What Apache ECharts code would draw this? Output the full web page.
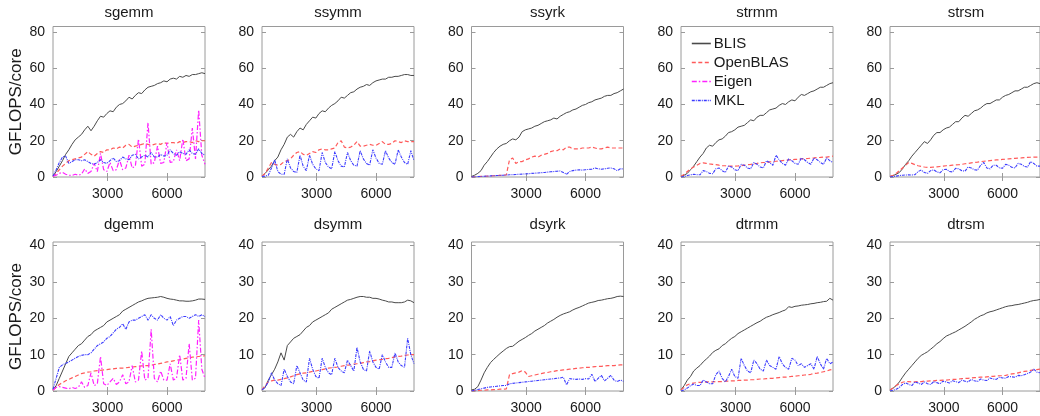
<!DOCTYPE html>
<html>
<head>
<meta charset="utf-8">
<script src="https://cdn.jsdelivr.net/npm/echarts@6/dist/echarts.min.js"></script>
<style>html,body{margin:0;padding:0;background:#fff}#c{width:1040px;height:416px}</style>
</head>
<body>
<div id="c"></div>
<script>
// Problem sizes (x axis)
const X = [240,400,560,720,880,1040,1200,1360,1520,1680,1840,2000,2160,2320,2480,2640,2800,2960,3120,3280,3440,3600,3760,3920,4080,4240,4400,4560,4720,4880,5040,5200,5360,5520,5680,5840,6000,6160,6320,6480,6640,6800,6960,7120,7280,7440,7600,7760,7920];
const xTicks = [3000, 6000];
const yTicksTop = [0, 20, 40, 60, 80];
const yTicksBottom = [0, 10, 20, 30, 40];
const panelNames = ['sgemm','ssymm','ssyrk','strmm','strsm','dgemm','dsymm','dsyrk','dtrmm','dtrsm'];
const seriesNames = ['BLIS','OpenBLAS','Eigen','MKL'];

// ---- single precision ----
const sgemm_BLIS = [0.5,3,6,9,12.5,15,18,20.5,22,23.5,26,28,25.5,28,31,33.5,33,35,36.5,36,38.5,40,40.5,42,44,43,45,46.5,46,48,49.5,50,50.5,51.5,52,53,52.5,54,54.5,54,55.5,55,56,55.5,56.5,56.5,57,57.5,57];
const sgemm_OpenBLAS = [0.3,2,4,6,7.5,9,9.5,10,10.5,11,12.5,14,12.5,11.5,13,14,13.5,15,15,16,15.5,16.5,16,17.5,18,16.5,17,17.5,18,18.5,18,17.5,18,18.5,18,19,18.5,19,19,18.5,19.5,19,19.5,19.5,19,20,19.5,20,20];
const sgemm_Eigen = [0.5,1,2,2.5,1.5,1,0.8,1.5,1,1.5,4.5,2,3,7.5,3,13,4,3,8,3.5,4,9.5,4,5,12,5,6,21,6,7,30,7,8,17,7.5,8,19,8,8.5,15,9,21,9,10,27,10,37,12,7];
const sgemm_MKL = [0.5,4,8,11,11.5,7.5,8.5,9.5,9.5,9,9.5,8.5,7.5,7,8,9.5,8,7.5,9,10.5,8.5,9,11,10,9.5,12,12.5,10,11,12,11,13.5,11,11,12.5,11.5,12,15,13,12,14,13,12.5,15,13,12.5,15.5,13,12];

const ssymm_BLIS = [0.5,2,4,6,9,11,15,18,22,23.5,22,25,27,26,29,31,33,32.5,35,36.5,36,38,39.5,40.5,42,44,43.5,45,46.5,47,48.5,49.5,50,51,50.5,52,53,53.5,54,54,55,55,55.5,55.5,56,56.5,56.5,56,56];
const ssymm_OpenBLAS = [0.5,2,5,8,7,6.5,7,8.5,9,10,12,13.5,14,12.5,12,13,14,13.5,15,15.5,15,15,15.5,16,19,20,16.5,16,16.5,17.5,19.5,17,17,17.5,18,17.5,17.5,18.5,19.5,18,18,18.5,20,19.5,19,20,19.5,19.5,19.5];
const ssymm_MKL = [0.3,0.5,1,5,9.5,3,1.5,1.5,10,5,3,2.5,12,6,3.5,12,7,4.5,3.5,13.5,8,5.5,4.5,14,9,6,5.5,13.5,9,6.5,6,14.5,10,7.5,6.5,15,10.5,7.5,7,14.5,10.5,8,7,15,11,8,7,14.5,9];

const ssyrk_BLIS = [0.3,1,2,3.5,6.5,8.5,11,13.5,15.5,17,18,18.5,20,21,20.5,22,25,26,26.5,27,28,28.5,29.5,30.5,31,31.5,32.5,32,33.5,34.5,35.5,36,37,37.5,38.5,39.5,40,41,41.5,42.5,43,43.5,44.5,45,45,46,46.5,47.5,48.5];
const ssyrk_OpenBLAS = [0,0.1,0.2,0.3,0.4,0.5,0.6,0.7,0.8,0.9,1,1.2,9.5,10.5,7.5,8.5,8.5,9.5,10,11,11.5,11,12,12.5,13,14,14.5,14.5,15.5,15,16.5,16.5,15.5,15.5,15.5,16,16,16,16.5,16,15.5,15.5,16,16.5,16,16,16,16,16];
const ssyrk_MKL = [0,0.1,0.2,0.3,0.4,0.5,0.6,0.7,0.8,0.9,1,1.1,1.2,1.3,1.4,1.5,1.6,1.7,1.8,2,2.1,2.2,2.4,2.5,2.7,2.9,3,3.2,3.3,2.5,1.5,3,3.5,3.8,4,3.8,4,4.2,4.3,5,4.5,4.3,4.5,4.8,5,4.5,3.5,4.5,4.5];

const strmm_BLIS = [0.3,1,2,4,6,8.5,11,13,16,17.5,17,19,20.5,21,22.5,24.5,25,26,27.5,28,28.5,30,31.5,31,33,34,34,35.5,37,37.5,38,39.5,40.5,40,41.5,42.5,42,44,45.5,45,46,47,47.5,48.5,49.5,49.5,50.5,51.5,52];
const strmm_OpenBLAS = [0.3,1.5,3,4.5,5.5,6.5,7.5,7.8,7.5,7.2,7,6.8,6.5,6.3,6.2,6,6,6,6.1,6.3,6.5,6.8,7,7.3,7.5,7.8,8,8,8.3,8.5,8.7,8.8,9,9.2,9.4,9.5,9.7,9.8,10,10,10.2,10.4,10.5,10.7,10.8,11,11,11.3,11.5];
const strmm_MKL = [0,0.3,0.8,1.2,1.5,1.3,1.2,3.5,3,2,1.8,4.5,5,3.5,2.5,6,5.5,4,3.5,7,6.5,5,4.5,8,7,5.5,5,9,8,6.5,12,9.5,7.5,6.5,10,9,7.5,7,10.5,9.5,8,7,10.5,9.5,8,7,10.5,9,8];

const strsm_BLIS = [0.3,0.8,1.5,2.5,4.5,7,9,11.5,13.5,15.5,17.5,19.5,18.5,20.5,23,24.5,24.5,26,27,27.5,29,30.5,30.5,32.5,34,33.5,35,36.5,37,38,39.5,40.5,40.5,41.5,42.5,42.5,44,45,45.5,46.5,47.5,47.5,48.5,49.5,49.5,50.5,51.5,52,51.5];
const strsm_OpenBLAS = [0.3,1,2,3.5,5,6.5,8,7.5,6.8,6.2,5.8,5.5,5.3,5.3,5.5,5.6,5.8,6,6.2,6.3,6.5,6.7,6.8,7,7.3,7.5,7.8,8,8.2,8.5,8.7,8.8,9,9.2,9.4,9.5,9.7,9.8,10,10.1,10.3,10.4,10.5,10.7,10.8,10.9,11,11,11];
const strsm_MKL = [0,0.2,0.5,0.8,1,1.1,1.2,1.1,1.3,3,3.8,2.5,2,3.5,4,2.8,2.3,4,4.3,3,2.8,4.8,4.5,3.5,3.2,5.5,5,4,3.8,6.5,8,5,4.5,6.5,6.5,5,4.8,7,6.5,5.3,5,7.5,7,5.8,5.5,8.5,7.5,6,6];

// ---- double precision ----
const dgemm_BLIS = [0.3,1.5,3.5,5.5,7.5,9.5,10.5,11.5,12.5,13,14,15,15.5,16.5,17,17.5,18,19,19.5,20,20.5,21,22,22.5,23,23.5,24,24.5,24.8,25.2,25.5,25.6,25.7,25.8,26,25.8,25.5,25.3,25.2,25,24.8,24.8,24.7,24.7,24.8,25,25.3,25.3,25.2];
const dgemm_OpenBLAS = [0.3,1,1.8,2.3,2.8,3.2,3.6,4,4.4,4.8,5,5.2,5.3,5.5,5.6,5.7,5.8,5.9,6,6.1,6.2,6.3,6.3,6.4,6.5,6.6,6.7,6.8,6.9,7,7,7.1,7.3,7.4,7.6,7.8,8,8.1,8.3,8.5,8.6,8.8,9,9.1,9.3,9.4,9.5,9.6,9.7];
const dgemm_Eigen = [0.3,1,1.2,1,0.8,0.6,1,0.7,1,2.5,1,1.5,5,1.5,2,9.5,2,1.5,2.5,3.5,1.8,2.5,4.5,2,2.5,7,2.5,3,11,3,3.5,17,3.5,2.5,5.5,3,3,7.5,3,3.5,10,3,3.5,13,3,3.5,19.5,6,3.5];
const dgemm_MKL = [0.5,3.5,6.5,7.2,7.6,8,8.5,9,9.5,9.8,10,10,10.5,11.5,12.5,13,13.5,14.5,15,16,17,17.5,18.5,17,19,19.5,19.5,20,20.5,21,19.5,21,20,19.5,21,20,19.5,20.5,18,19.5,20,20.5,20.5,20,20.5,21,20.5,21,20.5];

const dsymm_BLIS = [0.3,1,3,4.5,6,8,10.5,8.5,12.5,13.5,14.5,15,15.5,16.5,17.5,18,19,19.5,20,20.5,21,21.5,22.5,23,23.5,24,24.5,25,25.2,25.5,25.8,26,26,25.8,25.8,25.5,25.5,25.3,25,24.8,24.5,24.5,24.3,24.3,24.3,24.5,25,24.8,24.3];
const dsymm_OpenBLAS = [0.3,1.5,2.5,2.8,3,3,3.2,3.4,3.6,3.9,4.2,4.5,4.7,4.9,5,5.2,5.4,5.5,5.7,5.9,6.1,6.3,6.4,6.5,6.6,6.8,7,7.1,7.2,7.4,7.5,7.6,7.8,8,8.1,8.3,8.5,8.6,8.7,8.9,9,9.2,9.4,9.5,9.6,9.8,9.9,10,10];
const dsymm_MKL = [0.3,1,2.5,5,3,2,1.5,6,4,2.5,2,7,5,3,2.5,9,6,4,3.5,9,6.5,5,4.5,9,6.5,5.5,5,8.5,7,5.5,12,8,6,5.5,11,8,6.5,6,10,8,6.5,6.5,10.5,8,7,6.5,14.5,10,7.5];

const dsyrk_BLIS = [0.3,0.5,1.2,3,5,6.5,7.8,8.7,9.5,10.3,11,11.7,12.2,12.3,13,13.7,14.2,14.7,15.3,15.8,16.5,17,17.5,18,18.7,19.2,19.7,20.3,20.8,21.2,21.5,21.8,22.3,22.7,23,23.4,23.8,24.2,24.4,24.6,24.9,25,25.2,25.4,25.5,25.7,26,26.1,26];
const dsyrk_OpenBLAS = [0,0.1,0.1,0.2,0.2,0.3,0.3,0.4,0.4,0.5,0.5,0.6,4.5,4.8,5,5.2,5.6,5.2,4,4.2,4.4,4.6,4.8,5,5.1,5.3,5.4,5.6,5.7,5.8,5.9,6,6.1,6.2,6.3,6.4,6.5,6.5,6.6,6.7,6.8,6.8,6.9,7,7,7,7.1,7.2,7.2];
const dsyrk_MKL = [0,0.2,0.4,0.6,0.8,1,1.1,1.2,1.3,1.4,1.5,1.5,2,2.1,2.2,2.3,2.4,2.5,2.6,2.7,2.8,2.9,3,3.1,3.2,3.3,3.4,3.5,3.6,3.8,1.7,3.4,3.3,3.2,3.3,3.2,3.4,3.3,4.6,2.6,3.5,4.3,2.8,3.5,4.3,3,2.6,3,2.7];

const dtrmm_BLIS = [0.3,1.5,3,4,5.5,6.3,7,8,8.8,9.6,10.6,11.2,11.6,12.5,13,13.8,14.5,15,15.8,16.3,16.8,17.3,17.8,18.3,18.8,19.2,19.8,20.3,20.6,21,21.3,21.6,22,22.3,23.2,23,23.3,23.4,23.6,23.7,23.8,24,24.1,24.3,24.4,24.6,24.7,25.5,25];
const dtrmm_OpenBLAS = [0.3,1,1.7,2,2.2,2.3,2.4,2.4,2.5,2.5,2.5,2.6,2.6,2.6,2.7,2.7,2.8,2.8,2.9,2.9,3,3,3.1,3.1,3.2,3.3,3.3,3.4,3.5,3.5,3.6,3.7,3.8,3.8,3.9,4,4.1,4.2,4.3,4.4,4.5,4.6,4.8,4.9,5.1,5.3,5.5,5.8,6];
const dtrmm_MKL = [0,0.3,0.8,1.5,1.9,1.5,1.5,3,2.5,2,2,4.5,5.5,3.5,2.5,4,6,4,3.5,9,7,5.5,5,8.5,7.5,6,5.5,8.5,7,6.5,6,9.5,7.5,6.5,6,9,8.5,7,7.5,6.5,7,7.5,6,9.5,7.5,6,9,7.5,8];

const dtrsm_BLIS = [0.3,0.8,1.5,2.5,3.8,5,6,7,8,9,9.8,10.3,10.8,11.5,12.2,13,13.6,14.4,15.1,15.5,15.9,16.3,16.8,17.3,17.8,18.4,19,19.7,20.2,20.7,21,21.5,21.8,22,22.3,22.6,22.9,23.2,23.4,23.5,23.7,23.8,24,24.2,24.4,24.7,24.9,25,25.2];
const dtrsm_OpenBLAS = [0.3,0.8,1.5,2,2.4,2.6,2.6,2.5,2.5,2.6,2.6,2.7,2.7,2.8,2.8,2.9,2.9,3,3,3.1,3.2,3.2,3.3,3.4,3.5,3.5,3.6,3.7,3.7,3.8,3.8,3.9,4,4,4.1,4.2,4.2,4.3,4.5,4.7,4.8,5,5.2,5.4,5.5,5.7,5.8,5.9,6];
const dtrsm_MKL = [0,0.2,0.5,1,1.8,2.2,1.8,1.5,2.5,2.2,1.8,2.5,2,1.8,2.6,2.3,2,2.7,2.5,2.2,2.8,2.6,2.3,3,2.7,2.5,3.2,2.8,2.6,3.3,3,2.9,3.6,3.3,3.2,3.8,3.6,3.5,4,3.9,3.8,4.3,4.2,4.5,4.8,5.2,6,5.2,5];

const panels = [
  {BLIS: sgemm_BLIS, OpenBLAS: sgemm_OpenBLAS, Eigen: sgemm_Eigen, MKL: sgemm_MKL},
  {BLIS: ssymm_BLIS, OpenBLAS: ssymm_OpenBLAS, MKL: ssymm_MKL},
  {BLIS: ssyrk_BLIS, OpenBLAS: ssyrk_OpenBLAS, MKL: ssyrk_MKL},
  {BLIS: strmm_BLIS, OpenBLAS: strmm_OpenBLAS, MKL: strmm_MKL},
  {BLIS: strsm_BLIS, OpenBLAS: strsm_OpenBLAS, MKL: strsm_MKL},
  {BLIS: dgemm_BLIS, OpenBLAS: dgemm_OpenBLAS, Eigen: dgemm_Eigen, MKL: dgemm_MKL},
  {BLIS: dsymm_BLIS, OpenBLAS: dsymm_OpenBLAS, MKL: dsymm_MKL},
  {BLIS: dsyrk_BLIS, OpenBLAS: dsyrk_OpenBLAS, MKL: dsyrk_MKL},
  {BLIS: dtrmm_BLIS, OpenBLAS: dtrmm_OpenBLAS, MKL: dtrmm_MKL},
  {BLIS: dtrsm_BLIS, OpenBLAS: dtrsm_OpenBLAS, MKL: dtrsm_MKL}
];

const styles = {
  BLIS:     {color: '#4a4a4a', type: 'solid', width: 1},
  OpenBLAS: {color: '#ff5a5a', type: [4, 2.5], width: 1.2},
  Eigen:    {color: '#ff22ff', type: [5, 2, 1.5, 2], width: 1.2},
  MKL:      {color: '#3c3cff', type: [3, 1, 1, 1], width: 1.1}
};

const FONT = 'Liberation Sans, Arial, Helvetica, sans-serif';
const colLeft = [53, 262, 471.5, 681, 890];
const W = 152;
const rows = [{top: 26.5, h: 150.5, max: 83, ticks: yTicksTop, titleY: 13},
              {top: 242, h: 149, max: 41, ticks: yTicksBottom, titleY: 225}];
const boxColor = '#9a9a9a';
const textColor = '#1a1a1a';
const plain = v => String(v);

const grid = [], xAxis = [], yAxis = [], series = [], graphic = [];
panelNames.forEach((name, i) => {
  const r = rows[Math.floor(i / 5)], c = i % 5;
  grid.push({left: colLeft[c], top: r.top, width: W, height: r.h, show: true,
             borderColor: boxColor, borderWidth: 1, backgroundColor: 'transparent', containLabel: false});
  const xBase = {type: 'value', gridIndex: i, min: 240, max: 7920,
    axisLine: {show: false}, splitLine: {show: false},
    axisTick: {show: true, inside: true, length: 4, customValues: xTicks, lineStyle: {color: boxColor}}};
  xAxis.push(Object.assign({}, xBase, {position: 'bottom',
    axisLabel: {show: true, customValues: xTicks, formatter: plain, fontSize: 14, color: textColor, margin: 10, fontFamily: FONT}}));
  xAxis.push(Object.assign({}, xBase, {position: 'top', axisLabel: {show: false}}));
  const yBase = {type: 'value', gridIndex: i, min: 0, max: r.max,
    axisLine: {show: false}, splitLine: {show: false},
    axisTick: {show: true, inside: true, length: 4, customValues: r.ticks, lineStyle: {color: boxColor}}};
  const yLeft = Object.assign({}, yBase, {position: 'left',
    axisLabel: {show: true, customValues: r.ticks, formatter: plain, fontSize: 14, color: textColor, margin: 8, fontFamily: FONT}});
  if (c === 0) {
    Object.assign(yLeft, {name: 'GFLOPS/core', nameLocation: 'middle', nameGap: 28,
      nameTextStyle: {fontSize: 17, color: textColor, fontFamily: FONT}});
  }
  yAxis.push(yLeft);
  yAxis.push(Object.assign({}, yBase, {position: 'right', axisLabel: {show: false}}));

  seriesNames.forEach(sn => {
    const vals = panels[i][sn];
    if (!vals) return;
    series.push({name: sn, type: 'line', xAxisIndex: 2 * i, yAxisIndex: 2 * i, color: styles[sn].color,
      data: X.map((x, k) => [x, vals[k]]), symbol: 'none', showSymbol: false,
      lineStyle: styles[sn], itemStyle: {color: styles[sn].color}, clip: true, z: 2});
  });

  graphic.push({type: 'text', x: colLeft[c] + W / 2, y: r.titleY,
    style: {text: name, fontSize: 15, fontFamily: FONT, fill: textColor, textAlign: 'center', textVerticalAlign: 'middle'}});
});

const chart = echarts.init(document.getElementById('c'), null, {renderer: 'canvas'});
chart.setOption({
  animation: false,
  backgroundColor: '#fff',
  grid, xAxis, yAxis, series, graphic,
  legend: {show: true, orient: 'vertical', left: 691, top: 36, itemWidth: 19, itemHeight: 14, itemGap: 4,
    data: seriesNames.map(sn => ({name: sn, itemStyle: {color: styles[sn].color, opacity: 0},
      lineStyle: {color: styles[sn].color, type: styles[sn].type, width: 1.6, opacity: 1}})),
    textStyle: {fontSize: 15, color: textColor, fontFamily: FONT, padding: [0, 0, 0, -2]}, padding: 0}
});
</script>
</body>
</html>
